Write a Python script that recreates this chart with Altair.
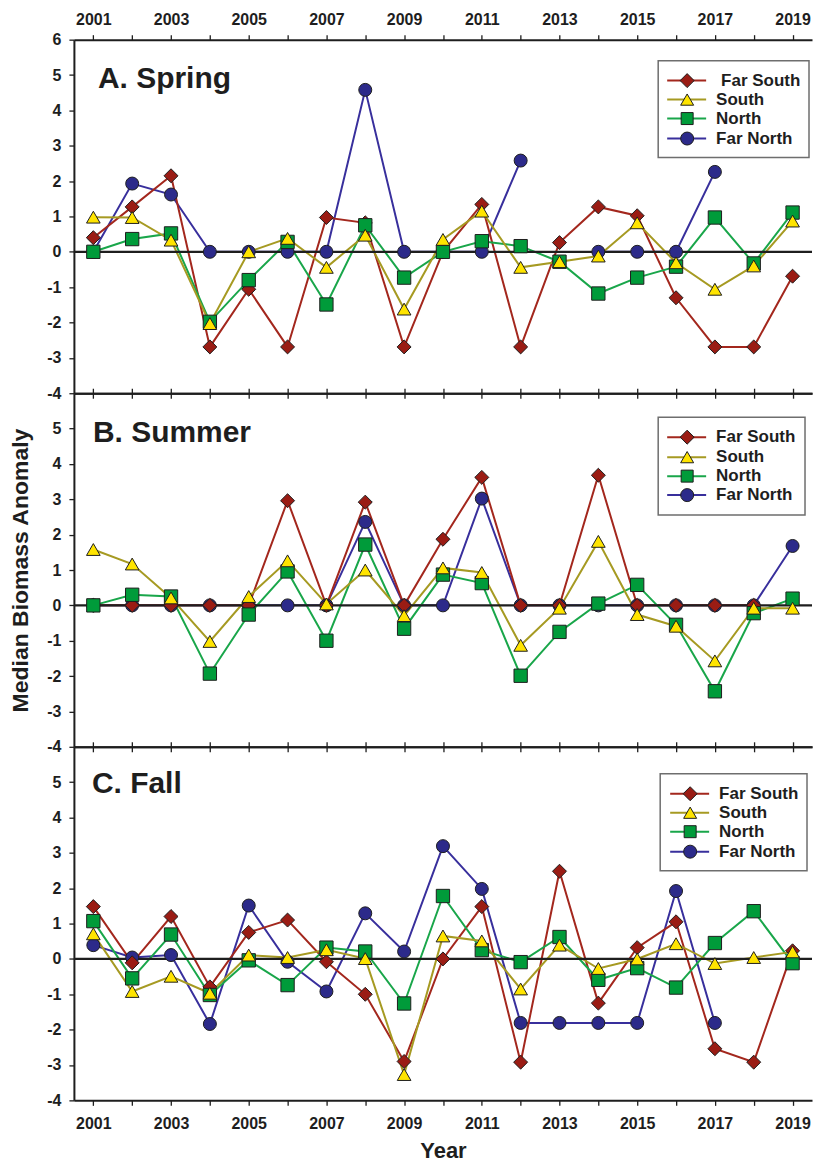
import altair as alt
import pandas as pd

# Survey years and regional series
YEARS = list(range(2001, 2020))
SERIES = ["Far South", "South", "North", "Far North"]
DRAW_ORDER = ["Far North", "Far South", "North", "South"]

LINE_COLORS = ["#a3271d", "#a69a22", "#19a64a", "#382f9c"]
FILL_COLORS = ["#9a1c14", "#ffe400", "#009b3a", "#2c2a8a"]
SHAPES = ["diamond", "triangle-up", "square", "circle"]
SIZES = [196, 169, 144, 169]

# Median biomass anomaly by season (None = no estimate)
spring_far_south = [0.40, 1.27, 2.15, -2.69, -1.06, -2.69, 0.97, 0.82, -2.69, 0.0,
                    1.34, -2.69, 0.26, 1.27, 1.02, -1.30, -2.69, -2.69, -0.69]
spring_south = [0.98, 0.97, 0.33, -2.03, 0.0, 0.38, -0.44, 0.47, -1.62, 0.35,
                1.15, -0.44, -0.28, -0.12, 0.82, -0.31, -1.06, -0.40, 0.87]
spring_north = [0.0, 0.36, 0.52, -1.98, -0.80, 0.28, -1.49, 0.75, -0.73, 0.0,
                0.30, 0.16, -0.28, -1.18, -0.73, -0.42, 0.97, -0.33, 1.11]
spring_far_north = [0.0, 1.93, 1.62, 0.0, 0.0, 0.0, 0.0, 4.58, 0.0, 0.0,
                    0.0, 2.58, None, 0.0, 0.0, 0.0, 2.26, None, None]

summer_far_south = [0.0, 0.0, 0.0, 0.0, 0.0, 2.96, 0.0, 2.92, 0.0, 1.87,
                    3.62, 0.0, 0.0, 3.68, 0.0, 0.0, 0.0, 0.0, None]
summer_south = [1.58, 1.17, 0.21, -1.02, 0.25, 1.26, 0.04, 1.0, -0.29, 1.06,
                0.93, -1.13, -0.08, 1.81, -0.26, -0.59, -1.57, -0.08, -0.08]
summer_north = [0.0, 0.30, 0.25, -1.93, -0.26, 0.96, -1.0, 1.72, -0.66, 0.87,
                0.63, -1.99, -0.75, 0.05, 0.58, -0.55, -2.43, -0.22, 0.19]
summer_far_north = [0.0, 0.0, 0.0, 0.0, 0.0, 0.0, 0.0, 2.36, 0.0, 0.0,
                    3.02, 0.0, 0.0, 0.0, 0.0, 0.0, 0.0, 0.0, 1.68]

fall_far_south = [1.48, -0.11, 1.20, -0.79, 0.75, 1.10, -0.08, -1.0, -2.90, 0.0,
                  1.48, -2.92, 2.48, -1.25, 0.32, 1.05, -2.54, -2.92, 0.23]
fall_south = [0.71, -0.92, -0.49, -0.97, 0.11, 0.04, 0.26, 0.01, -3.27, 0.65,
              0.51, -0.85, 0.39, -0.27, 0.0, 0.43, -0.13, 0.04, 0.20]
fall_north = [1.07, -0.55, 0.69, -1.02, -0.04, -0.74, 0.32, 0.21, -1.26, 1.78,
              0.25, -0.09, 0.62, -0.59, -0.26, -0.81, 0.45, 1.35, -0.12]
fall_far_north = [0.39, 0.04, 0.11, -1.84, 1.51, -0.08, -0.92, 1.29, 0.21, 3.19,
                  1.98, -1.81, -1.81, -1.81, -1.81, 1.92, -1.81, None, None]

PANELS = [
    ("A. Spring", dict(zip(SERIES, [spring_far_south, spring_south, spring_north, spring_far_north]))),
    ("B. Summer", dict(zip(SERIES, [summer_far_south, summer_south, summer_north, summer_far_north]))),
    ("C. Fall", dict(zip(SERIES, [fall_far_south, fall_south, fall_north, fall_far_north]))),
]

# Pixel layout of the in-panel title and legend box
TITLE_POS = [(24, 48), (19, 49), (18, 46)]
LEGEND_BOX = [(585, 736, 21, 118), (585, 732, 24, 122), (587, 734, 27, 124)]
LEGEND_ROWS = [[41, 60, 79, 99], [44, 64, 83, 102], [47, 66, 85, 105]]
LEGEND_X = [(594, 633, 614, 643), (594, 633, 614, 643), (597, 636, 617, 646)]

FONT = "Liberation Sans"
INK = "#1e1e1e"
W, H = 739, 354


def long_frame(values):
    rows = []
    for s in DRAW_ORDER:
        seg, gap = 0, True
        for yr, v in zip(YEARS, values[s]):
            if v is None:
                gap = True
                continue
            if gap:
                seg += 1
                gap = False
            rows.append({"year": yr, "value": v, "series": s, "seg": f"{s}-{seg}"})
    return pd.DataFrame(rows)


def x_axis(orient, labels, title=None):
    return alt.Axis(
        orient=orient, values=YEARS, labels=labels,
        labelExpr="datum.value % 2 == 1 ? '' + datum.value : ''",
        labelOverlap=False, labelFlush=False, grid=False,
        domainColor=INK, domainWidth=2, tickColor=INK, tickSize=5, tickWidth=1.3,
        labelFont=FONT, labelFontSize=16, labelFontWeight="bold", labelColor=INK,
        labelPadding=7 if orient == "top" else 10, title=title, titleFont=FONT,
        titleFontSize=22, titleFontWeight="bold", titleColor=INK, titlePadding=9,
    )


def y_axis(values, title=None):
    return alt.Axis(
        values=values, labelExpr="'' + datum.value", grid=False,
        domainColor=INK, domainWidth=2, tickColor=INK, tickSize=5, tickWidth=1.3,
        labelFont=FONT, labelFontSize=16, labelFontWeight="bold", labelColor=INK,
        labelPadding=8, title=title, titleFont=FONT, titleFontSize=23,
        titleFontWeight="bold", titleColor=INK, titlePadding=14,
    )


xscale = alt.Scale(domain=[2000.5, 2019.5], nice=False, zero=False)
yscale = alt.Scale(domain=[-4, 6], nice=False, zero=False)
series_color = alt.Scale(domain=SERIES, range=LINE_COLORS)


def panel(idx):
    name, values = PANELS[idx]
    df = long_frame(values)
    first, last = idx == 0, idx == len(PANELS) - 1
    yvals = list(range(-4, 7)) if first else list(range(-4, 6))
    ytitle = "Median Biomass Anomaly" if idx == 1 else None
    yenc = alt.Y("value:Q", scale=yscale, axis=y_axis(yvals, ytitle))

    lines = alt.Chart(df).mark_line(strokeWidth=2).encode(
        x=alt.X("year:Q", scale=xscale, axis=x_axis("bottom", last, "Year" if last else None)),
        y=yenc,
        color=alt.Color("series:N", scale=series_color, legend=None),
        detail="seg:N",
    )
    zero = alt.Chart(pd.DataFrame({"value": [0]})).mark_rule(color=INK, strokeWidth=2.2).encode(
        y=yenc
    )
    points = alt.Chart(df).mark_point(filled=True, opacity=1, stroke=INK, strokeWidth=1).encode(
        x=alt.X("year:Q", scale=xscale, axis=x_axis("top", first)),
        y=yenc,
        shape=alt.Shape("series:N", scale=alt.Scale(domain=SERIES, range=SHAPES), legend=None),
        fill=alt.Fill("series:N", scale=alt.Scale(domain=SERIES, range=FILL_COLORS), legend=None),
        size=alt.Size("series:N", scale=alt.Scale(domain=SERIES, range=SIZES), legend=None),
    )

    one = pd.DataFrame({"k": [0]})
    tx, ty = TITLE_POS[idx]
    title = alt.Chart(one).mark_text(
        text=name, align="left", baseline="alphabetic", font=FONT,
        fontSize=30, fontWeight="bold", color=INK,
    ).encode(x=alt.value(tx), y=alt.value(ty))

    bx0, bx1, by0, by1 = LEGEND_BOX[idx]
    box = alt.Chart(one).mark_rect(fill="white", stroke="#6e6e6e", strokeWidth=1.5).encode(
        x=alt.value(bx0), x2=alt.value(bx1), y=alt.value(by0), y2=alt.value(by1)
    )
    lx0, lx1, sx, txt_x = LEGEND_X[idx]
    entries = []
    for i, s in enumerate(SERIES):
        ry = LEGEND_ROWS[idx][i]
        entries.append(alt.Chart(one).mark_rule(color=LINE_COLORS[i], strokeWidth=2).encode(
            x=alt.value(lx0), x2=alt.value(lx1), y=alt.value(ry)))
        entries.append(alt.Chart(one).mark_point(
            shape=SHAPES[i], filled=True, fill=FILL_COLORS[i], stroke=INK,
            strokeWidth=1, size=SIZES[i], opacity=1,
        ).encode(x=alt.value(sx), y=alt.value(ry)))
        shift = 5 if (first and i == 0) else 0
        entries.append(alt.Chart(one).mark_text(
            text=s, align="left", baseline="middle", font=FONT, fontSize=17,
            fontWeight="bold", color=INK,
        ).encode(x=alt.value(txt_x + shift), y=alt.value(ry)))

    return alt.layer(lines, zero, points, title, box, *entries).resolve_axis(
        x="independent"
    ).properties(width=W, height=H)


chart = alt.vconcat(
    *[panel(i) for i in range(len(PANELS))], spacing=0, bounds="flush"
).configure_view(stroke=None).properties(
    padding={"left": 9, "top": 11, "right": 0, "bottom": 0},
    background="white",
)

chart.save("out.html", embed_options={"renderer": "svg", "actions": False})
